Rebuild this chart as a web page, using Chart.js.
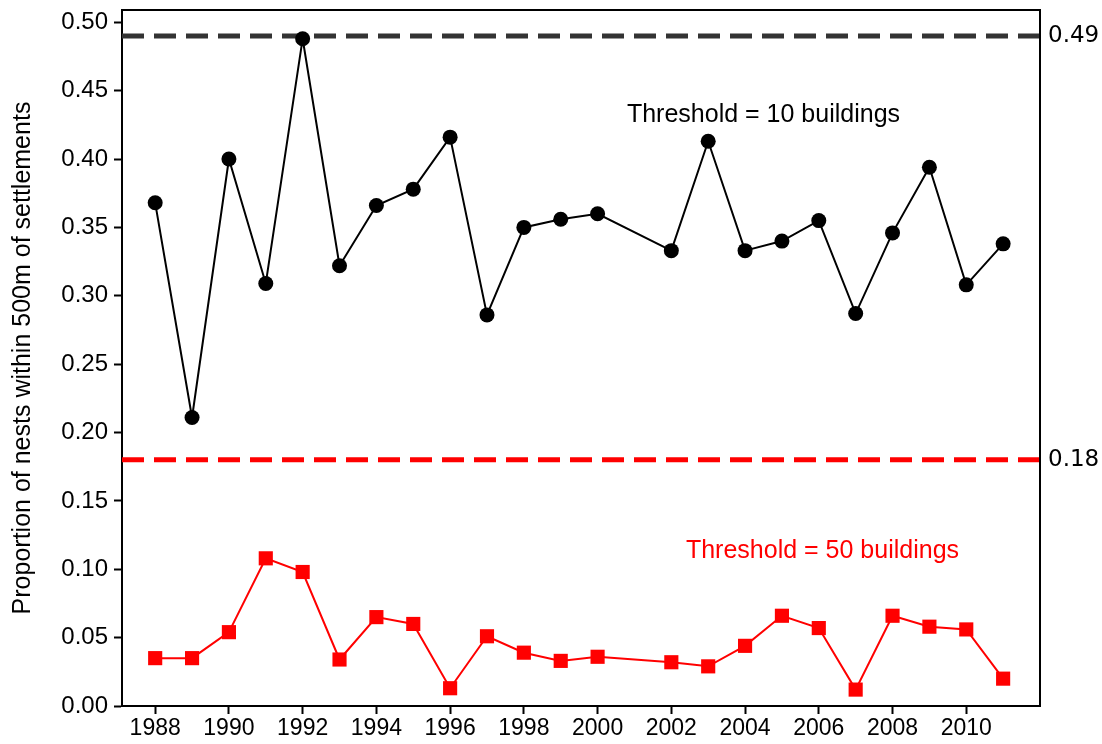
<!DOCTYPE html>
<html lang="en">
<head>
  <meta charset="UTF-8">
  <title>Proportion of nests within 500m of settlements</title>
  <script src="https://cdn.jsdelivr.net/npm/chart.js"></script>
  <style>
    body { margin: 0; background: #fff; }
    #wrap { width: 1102px; height: 744px; }
  </style>
</head>
<body>
<div id="wrap"><canvas id="nestChart" width="1102" height="744"></canvas></div>

<script>
// years with survey data (2001 missing)
const years = [1988, 1989, 1990, 1991, 1992, 1993, 1994, 1995, 1996, 1997, 1998, 1999, 2000,
               2002, 2003, 2004, 2005, 2006, 2007, 2008, 2009, 2010, 2011];
const prop10 = [0.368, 0.211, 0.400, 0.309, 0.488, 0.322, 0.366, 0.378, 0.416, 0.286, 0.350, 0.356, 0.360,
                0.333, 0.413, 0.333, 0.340, 0.355, 0.287, 0.346, 0.394, 0.308, 0.338];
const prop50 = [0.035, 0.035, 0.054, 0.108, 0.098, 0.034, 0.065, 0.060, 0.013, 0.051, 0.039, 0.033, 0.036,
                0.032, 0.029, 0.044, 0.066, 0.057, 0.012, 0.066, 0.058, 0.056, 0.020];
const thresholdValues = [0.49, 0.18];
const thresholdLabels = ["0.49", "0.18"];
const xTickYears = [1988, 1990, 1992, 1994, 1996, 1998, 2000, 2002, 2004, 2006, 2008, 2010];
const yTicks = [0, 0.05, 0.10, 0.15, 0.20, 0.25, 0.30, 0.35, 0.40, 0.45, 0.50];
const xMin = 1987.1, xMax = 2012.0;
const yMin = 0, yMax = 0.509;

const FONT = "Arial, 'Liberation Sans', sans-serif";

const toPoints = vals => years.map((y, i) => ({ x: y, y: vals[i] }));
const hLine = v => [{ x: xMin, y: v }, { x: xMax, y: v }];

// frame on top/right, right-side threshold labels, inline texts
const extras = {
  id: "extras",
  afterDraw(chart) {
    const { ctx, chartArea: a, scales } = chart;
    ctx.save();
    ctx.strokeStyle = "#000";
    ctx.lineWidth = 2;
    ctx.beginPath();
    ctx.moveTo(a.left, a.top);
    ctx.lineTo(a.right, a.top);
    ctx.lineTo(a.right, a.bottom);
    ctx.stroke();

    ctx.fillStyle = "#000";
    ctx.font = "23px 'DejaVu Sans', sans-serif";
    ctx.textAlign = "left";
    ctx.textBaseline = "middle";
    thresholdValues.forEach((v, i) => {
      ctx.fillText(thresholdLabels[i], a.right + 8, scales.y.getPixelForValue(v));
    });

    ctx.font = "25px " + FONT;
    ctx.textAlign = "center";
    ctx.fillStyle = "#000";
    ctx.fillText("Threshold = 10 buildings", scales.x.getPixelForValue(2004.5), scales.y.getPixelForValue(0.432));
    ctx.fillStyle = "#ff0000";
    ctx.fillText("Threshold = 50 buildings", scales.x.getPixelForValue(2006.1), scales.y.getPixelForValue(0.113));
    ctx.restore();
  }
};

new Chart(document.getElementById("nestChart"), {
  type: "line",
  data: {
    datasets: [
      { data: toPoints(prop10), borderColor: "#000", borderWidth: 2, pointStyle: "circle",
        pointRadius: 7.5, pointBackgroundColor: "#000", pointBorderWidth: 0, order: 0 },
      { data: toPoints(prop50), borderColor: "#ff0000", borderWidth: 2, pointStyle: "rect",
        pointRadius: 10, pointBackgroundColor: "#ff0000", pointBorderWidth: 0, order: 1 },
      { data: hLine(thresholdValues[0]), borderColor: "#333", borderWidth: 5, borderDash: [22, 10],
        pointRadius: 0, order: 5 },
      { data: hLine(thresholdValues[1]), borderColor: "#ff0000", borderWidth: 5, borderDash: [22, 10],
        pointRadius: 0, order: 5 }
    ]
  },
  options: {
    responsive: false,
    animation: false,
    layout: { padding: { top: 10, right: 62, left: 0, bottom: 0 } },
    plugins: { legend: { display: false }, tooltip: { enabled: false } },
    scales: {
      x: {
        type: "linear",
        min: xMin,
        max: xMax,
        afterBuildTicks: s => { s.ticks = xTickYears.map(v => ({ value: v })); },
        afterFit: s => { s.height = 38; s.paddingLeft = 0; s.paddingRight = 0; },
        grid: { drawOnChartArea: false, tickLength: 8, tickColor: "#000", tickWidth: 2 },
        border: { color: "#000", width: 2 },
        ticks: { color: "#000", font: { family: FONT, size: 23 }, padding: 1, maxRotation: 0,
                 callback: v => String(v) }
      },
      y: {
        min: yMin,
        max: yMax,
        afterBuildTicks: s => { s.ticks = yTicks.map(v => ({ value: v })); },
        afterFit: s => { s.width = 122; s.paddingTop = 0; s.paddingBottom = 0; },
        grid: { drawOnChartArea: false, tickLength: 8, tickColor: "#000", tickWidth: 2 },
        border: { color: "#000", width: 2 },
        ticks: { color: "#000", font: { family: FONT, size: 24 }, padding: 6,
                 callback: v => v.toFixed(2) },
        title: { display: true, text: "Proportion of nests within 500m of settlements",
                 color: "#000", font: { family: FONT, size: 25 }, padding: { top: 8, bottom: 0 } }
      }
    }
  },
  plugins: [extras]
});
</script>
</body>
</html>
